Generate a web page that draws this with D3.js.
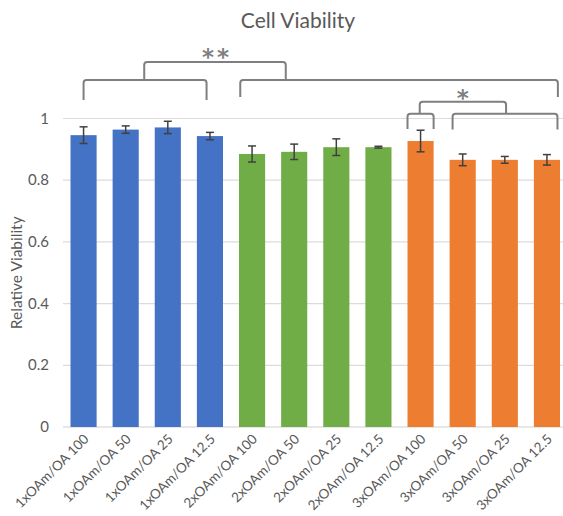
<!DOCTYPE html>
<html>
<head>
<meta charset="utf-8">
<script src="https://cdn.jsdelivr.net/npm/d3@7"></script>
<style>
  body { margin: 0; background: #fff; }
  svg { display: block; font-family: Lato, "Open Sans", sans-serif; }
</style>
</head>
<body>
<div id="chart"></div>
<script>
const labels = ["1xOAm/OA 100", "1xOAm/OA 50", "1xOAm/OA 25", "1xOAm/OA 12.5",
  "2xOAm/OA 100", "2xOAm/OA 50", "2xOAm/OA 25", "2xOAm/OA 12.5",
  "3xOAm/OA 100", "3xOAm/OA 50", "3xOAm/OA 25", "3xOAm/OA 12.5"];
const viability = [0.946, 0.964, 0.971, 0.943, 0.885, 0.892, 0.907, 0.907, 0.927, 0.866, 0.866, 0.866];
const errors = [0.027, 0.012, 0.02, 0.012, 0.026, 0.025, 0.027, 0.003, 0.035, 0.019, 0.011, 0.017];
const groups = [1, 1, 1, 1, 2, 2, 2, 2, 3, 3, 3, 3];
const yTicks = [0, 0.2, 0.4, 0.6, 0.8, 1];

// significance brackets, x in bar-index units, y in viability units
const brackets = [
  { x0: 0, x1: 2.92, top: 1.125, bottom: 1.06 },
  { x0: 3.72, x1: 11.26, top: 1.125, bottom: 1.07 },
  { x0: 1.44, x1: 4.8, top: 1.183, bottom: 1.125 },
  { x0: 7.69, x1: 8.31, top: 1.015, bottom: 0.966 },
  { x0: 8.76, x1: 11.25, top: 1.015, bottom: 0.964 },
  { x0: 7.98, x1: 10.03, top: 1.054, bottom: 1.015 }
];
const stars = [
  { x: 3.12, y: 1.216, text: "**" },
  { x: 9.0, y: 1.08, text: "*" }
];

const colors = { 1: "#4472C4", 2: "#70AD47", 3: "#ED7D31" };

let width = 563,
  height = 516;

let svg = d3.select("#chart")
  .append("svg")
  .attr("width", width)
  .attr("height", height);

let x = d3.scaleBand()
  .domain(labels)
  .range([62.5, 568])
  .paddingInner(0.38)
  .paddingOuter(0.19);

let y = d3.scaleLinear()
  .domain([0, 1])
  .range([427, 118.5]);

let xi = d3.scaleLinear()
  .domain([0, labels.length - 1])
  .range([x(labels[0]) + x.bandwidth() / 2, x(labels[labels.length - 1]) + x.bandwidth() / 2]);

// title
svg.append("text")
  .attr("x", 298)
  .attr("y", 28)
  .attr("text-anchor", "middle")
  .attr("fill", "#595959")
  .style("font-size", "21px")
  .text("Cell Viability");

// gridlines
svg.append("g")
  .selectAll("line")
  .data(yTicks)
  .join("line")
  .attr("x1", 63)
  .attr("x2", width)
  .attr("y1", d => y(d))
  .attr("y2", d => y(d))
  .attr("stroke", d => d === 0 ? "#cfcfcf" : "#dcdcdc")
  .attr("stroke-width", 1.2);

// y tick labels
svg.append("g")
  .selectAll("text")
  .data(yTicks)
  .join("text")
  .attr("x", 49)
  .attr("y", d => y(d) + 5)
  .attr("text-anchor", "end")
  .attr("fill", "#595959")
  .style("font-size", "15px")
  .text(d => d);

// y axis title
svg.append("text")
  .attr("transform", "translate(22," + y(0.5) + ") rotate(-90)")
  .attr("text-anchor", "middle")
  .attr("fill", "#595959")
  .style("font-size", "15.5px")
  .text("Relative Viability");

// bars
svg.append("g")
  .selectAll("rect")
  .data(labels)
  .join("rect")
  .attr("x", d => x(d))
  .attr("width", x.bandwidth())
  .attr("y", (d, i) => y(viability[i]))
  .attr("height", (d, i) => y(0) - y(viability[i]))
  .attr("fill", (d, i) => colors[groups[i]]);

// error bars
let eb = svg.append("g")
  .attr("stroke", "#404040")
  .attr("stroke-width", 1.5);

labels.forEach((d, i) => {
  let cx = x(d) + x.bandwidth() / 2;
  let lo = y(viability[i] - errors[i]),
    hi = y(viability[i] + errors[i]);
  eb.append("line").attr("x1", cx).attr("x2", cx).attr("y1", lo).attr("y2", hi);
  eb.append("line").attr("x1", cx - 4).attr("x2", cx + 4).attr("y1", lo).attr("y2", lo);
  eb.append("line").attr("x1", cx - 4).attr("x2", cx + 4).attr("y1", hi).attr("y2", hi);
});

// x labels
svg.append("g")
  .selectAll("text")
  .data(labels)
  .join("text")
  .attr("transform", d => "translate(" + (x(d) + x.bandwidth() / 2 + 6) + ",440) rotate(-45)")
  .attr("text-anchor", "end")
  .attr("fill", "#595959")
  .style("font-size", "13.5px")
  .text(d => d);

// brackets
const r = 3;
svg.append("g")
  .selectAll("path")
  .data(brackets)
  .join("path")
  .attr("d", b => {
    let x0 = xi(b.x0), x1 = xi(b.x1), yt = y(b.top), yb = y(b.bottom);
    return "M" + x0 + "," + yb + "L" + x0 + "," + (yt + r) +
      "Q" + x0 + "," + yt + " " + (x0 + r) + "," + yt +
      "L" + (x1 - r) + "," + yt +
      "Q" + x1 + "," + yt + " " + x1 + "," + (yt + r) +
      "L" + x1 + "," + yb;
  })
  .attr("fill", "none")
  .attr("stroke", "#7f7f7f")
  .attr("stroke-width", 2);

const starSize = 23;
svg.append("g")
  .selectAll("text")
  .data(stars)
  .join("text")
  .attr("x", d => xi(d.x) + (d.text.length > 1 ? 2 : 0))
  .attr("y", d => y(d.y) + starSize * 0.55)
  .attr("text-anchor", "middle")
  .attr("fill", "#7f7f7f")
  .style("font-family", "'DejaVu Sans', sans-serif")
  .style("font-weight", "bold")
  .style("letter-spacing", d => d.text.length > 1 ? "3px" : "0px")
  .style("font-size", starSize + "px")
  .text(d => d.text);
</script>
</body>
</html>
